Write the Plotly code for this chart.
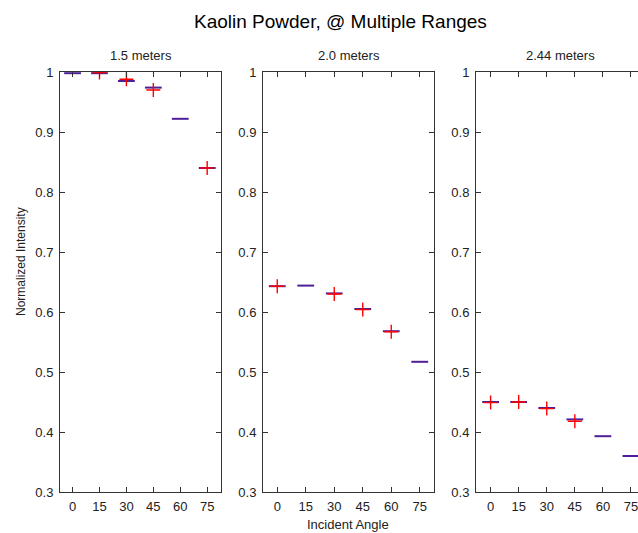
import plotly.graph_objects as go

angles = [0, 15, 30, 45, 60, 75]
tick_labels = ["0", "15", "30", "45", "60", "75"]
ranges = ["1.5 meters", "2.0 meters", "2.44 meters"]

# medians (horizontal bars)
median_15 = [0.998, 0.998, 0.985, 0.974, 0.922, 0.840]
median_20 = [0.643, 0.644, 0.631, 0.605, 0.568, 0.517]
median_244 = [0.450, 0.450, 0.440, 0.421, 0.393, 0.360]

# outliers (red crosses), None where no cross is drawn
outlier_15 = [None, 0.999, 0.988, 0.970, None, 0.840]
outlier_20 = [0.643, None, 0.630, 0.604, 0.567, None]
outlier_244 = [0.449, 0.450, 0.439, 0.418, None, None]

medians = [median_15, median_20, median_244]
outliers = [outlier_15, outlier_20, outlier_244]

# figure is a bit wider than the window: the third panel is cut off at the right edge
W, H = 648, 533
# panel pixel extents in the screenshot
px_domains = [(60, 221), (263, 434), (476, 645)]
x_ranges = [[-7.0, 82.7], [-7.5, 82.5], [-7.8, 82.5]]
top_px, bot_px = 72, 492


def fx(px):
    return px / W


def fy(py):
    return 1 - py / H


fig = go.Figure()
font_family = "Liberation Sans, Arial, sans-serif"
axis_col = "#333333"

for i in range(3):
    xa = "x" if i == 0 else f"x{i+1}"
    ya = "y" if i == 0 else f"y{i+1}"
    fig.add_trace(go.Scatter(
        x=angles, y=medians[i], mode="markers", xaxis=xa, yaxis=ya,
        marker=dict(symbol="line-ew", size=12, line=dict(color="#4e1f96", width=2)),
        showlegend=False, hoverinfo="x+y"))
    fig.add_trace(go.Scatter(
        x=angles, y=outliers[i], mode="markers", xaxis=xa, yaxis=ya,
        marker=dict(symbol="cross-thin", size=10, line=dict(color="#ff0000", width=1.4)),
        showlegend=False, hoverinfo="x+y"))

    d0 = fx(px_domains[i][0])
    d1 = min(fx(px_domains[i][1]), 1.0)
    xkey = "xaxis" if i == 0 else f"xaxis{i+1}"
    ykey = "yaxis" if i == 0 else f"yaxis{i+1}"
    fig.update_layout(**{
        xkey: dict(domain=[d0, d1], range=x_ranges[i], tickvals=angles, ticktext=tick_labels,
                   ticks="inside", ticklen=5, tickcolor=axis_col, showline=True, linecolor=axis_col,
                   linewidth=1, mirror="ticks", showgrid=False, zeroline=False, anchor=ya,
                   tickfont=dict(family=font_family, size=13, color="#222222"),
                   ticklabelstandoff=2, automargin=False),
        ykey: dict(domain=[fy(bot_px), fy(top_px)], range=[0.3, 1.0],
                   tickvals=[0.3, 0.4, 0.5, 0.6, 0.7, 0.8, 0.9, 1.0],
                   ticktext=["0.3", "0.4", "0.5", "0.6", "0.7", "0.8", "0.9", "1"],
                   ticks="inside", ticklen=5, tickcolor=axis_col, showline=True, linecolor=axis_col,
                   linewidth=1, mirror="ticks", showgrid=False, zeroline=False,
                   anchor=xa, tickfont=dict(family=font_family, size=13, color="#222222"),
                   ticklabelstandoff=3, automargin=False),
    })

annotations = []
for i in range(3):
    cx = fx((px_domains[i][0] + px_domains[i][1]) / 2)
    annotations.append(dict(text=ranges[i], x=cx, y=fy(56), xref="paper", yref="paper",
                            showarrow=False, xanchor="center", yanchor="middle",
                            font=dict(family=font_family, size=13, color="#222222")))
annotations.append(dict(text="Kaolin Powder, @ Multiple Ranges", x=fx(340), y=fy(21),
                        xref="paper", yref="paper", showarrow=False, xanchor="center",
                        yanchor="middle", font=dict(family=font_family, size=19, color="#000000")))
annotations.append(dict(text="Normalized Intensity", x=fx(21), y=fy(262), xref="paper",
                        yref="paper", showarrow=False, textangle=-90, xanchor="center",
                        yanchor="middle", font=dict(family=font_family, size=12, color="#222222")))
annotations.append(dict(text="Incident Angle", x=fx(348), y=fy(524), xref="paper",
                        yref="paper", showarrow=False, xanchor="center", yanchor="middle",
                        font=dict(family=font_family, size=13, color="#222222")))

fig.update_layout(width=W, height=H, margin=dict(l=0, r=0, t=0, b=0),
                  paper_bgcolor="white", plot_bgcolor="white", annotations=annotations,
                  showlegend=False)

fig.write_html(
    "out.html",
    config={"displayModeBar": False},
    post_script="document.body.style.margin='0';document.body.style.overflow='hidden';"
                "document.documentElement.style.overflow='hidden';",
)
